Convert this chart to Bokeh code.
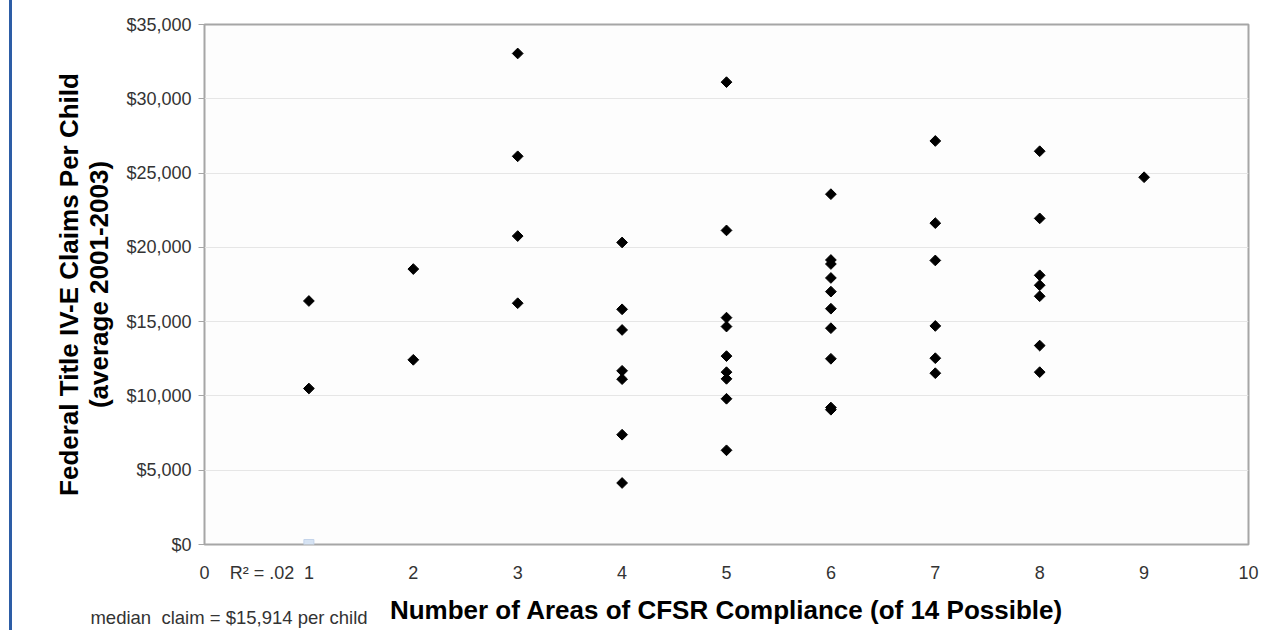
from bokeh.plotting import figure
from bokeh.models import Range1d, NumeralTickFormatter, FixedTicker, LinearAxis
from bokeh.embed import file_html
from bokeh.resources import INLINE

# ---- data ----
compliance = [1, 1,
              2, 2,
              3, 3, 3, 3,
              4, 4, 4, 4, 4, 4, 4,
              5, 5, 5, 5, 5, 5, 5, 5, 5,
              6, 6, 6, 6, 6, 6, 6, 6, 6, 6,
              7, 7, 7, 7, 7, 7,
              8, 8, 8, 8, 8, 8, 8,
              9]
claims = [16390, 10500,
          18540, 12430,
          33050, 26130, 20760, 16240,
          20330, 15830, 14440, 11690, 11130, 7390, 4140,
          31120, 21140, 15270, 14670, 12680, 11600, 11150, 9810, 6340,
          23580, 19150, 18880, 17940, 17020, 15870, 14560, 12500, 9220, 9070,
          27160, 21630, 19120, 14710, 12540, 11530,
          26470, 21950, 18120, 17450, 16710, 13390, 11600,
          24720]
trend_x = [1]
trend_y = [0]
x_ticks = [0, 1, 2, 3, 4, 5, 6, 7, 8, 9, 10]
y_ticks = [0, 5000, 10000, 15000, 20000, 25000, 30000, 35000]
r2_text = "R² = .02"
r2_at = 0.55
median_text = "median\u00a0\u00a0claim = $15,914 per child"
median_at = 0.235

FONT = "Liberation Sans"
W, H = 1268, 630

p = figure(width=W, height=H, output_backend="svg", toolbar_location=None,
           x_range=Range1d(0, 10), y_range=Range1d(0, 35000),
           min_border_left=192, min_border_right=32,
           min_border_top=24, min_border_bottom=H - 545)
p.styles = {"border-left": "3px solid #2d5da6", "margin-left": "9px"}
p.background_fill_color = "#fdfdfd"
p.border_fill_color = "#ffffff"
p.outline_line_color = "#a6a6a6"
p.outline_line_width = 2

p.xgrid.grid_line_color = None
p.ygrid.grid_line_color = "#e6e6e6"
p.ygrid.grid_line_width = 1

p.xaxis.ticker = FixedTicker(ticks=x_ticks + [r2_at])
p.xaxis.major_label_overrides = {r2_at: r2_text}
p.yaxis.ticker = FixedTicker(ticks=y_ticks)
p.yaxis.formatter = NumeralTickFormatter(format="$0,0")
for ax in (p.xaxis, p.yaxis):
    ax.axis_line_color = None
    ax.major_tick_line_color = "#a6a6a6"
    ax.minor_tick_line_color = None
    ax.major_tick_in = 0
    ax.major_label_text_font = FONT
    ax.major_label_text_font_size = "18px"
    ax.major_label_text_color = "#333333"
    ax.axis_label_text_font = FONT
    ax.axis_label_text_font_size = "26px"
    ax.axis_label_text_font_style = "bold"
    ax.axis_label_text_color = "#000000"
p.yaxis.major_tick_out = 6
p.yaxis.major_label_standoff = 7
p.xaxis.major_tick_out = 0
p.xaxis.major_tick_line_color = None
p.xaxis.major_label_standoff = 18

p.yaxis.axis_label = "Federal Title IV-E Claims Per Child\n(average 2001-2003)"
p.yaxis.axis_label_text_line_height = 1.0
p.yaxis.axis_label_standoff = 9
p.xaxis.axis_label = "Number of Areas of CFSR Compliance (of 14 Possible)"
p.xaxis.axis_label_standoff = 9

# a second, bare axis that only carries the median note
note_axis = LinearAxis(ticker=FixedTicker(ticks=[median_at]),
                       major_label_overrides={median_at: median_text},
                       axis_line_color=None, major_tick_line_color=None,
                       minor_tick_line_color=None, major_tick_out=0, major_tick_in=0,
                       major_label_standoff=-21,
                       major_label_text_font=FONT, major_label_text_font_size="18.5px",
                       major_label_text_color="#333333")
p.add_layout(note_axis, "below")

p.scatter(trend_x, trend_y, marker="square", size=10,
          fill_color="#d6e3f3", line_color="#c4d4ea")
p.scatter(compliance, claims, marker="square", angle=0.785398, size=7.6,
          fill_color="#000000", line_color="#000000")

open("out.html", "w").write(file_html(p, INLINE))
